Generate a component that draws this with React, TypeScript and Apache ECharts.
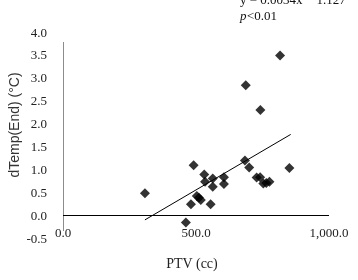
import React, { useEffect, useRef } from "react";
import * as echarts from "echarts";

const ptv = [816, 687, 742, 851, 684, 700, 728, 741, 753, 776, 764, 491, 531, 534, 563, 563, 605, 605, 308, 503, 518, 511, 481, 555, 462];
const dTemp = [3.49, 2.84, 2.30, 1.04, 1.20, 1.05, 0.83, 0.84, 0.70, 0.74, 0.71, 1.10, 0.90, 0.74, 0.81, 0.63, 0.84, 0.69, 0.49, 0.43, 0.34, 0.39, 0.25, 0.25, -0.15];
const trendX = [308, 856];
const trendY = [-0.09, 1.77];
const equationText = "y = 0.0034x \u2212 1.127";
const pText = "<0.01";
const xTitle = "PTV (cc)";
const yTitle = "dTemp(End) (\u00B0C)";

export default function App() {
  const ref = useRef<HTMLDivElement>(null);
  useEffect(() => {
    if (!ref.current) return;
    const chart = echarts.init(ref.current, null, { renderer: "svg" });
    const serif = "Liberation Serif";
    chart.setOption({
      animation: false,
      grid: { left: 63, right: 29, top: 32, bottom: 41.3 },
      xAxis: {
        type: "value",
        min: 0,
        max: 1000,
        interval: 500,
        axisLine: { show: false, onZero: false },
        axisTick: { show: false },
        splitLine: { show: false },
        axisLabel: {
          margin: -13,
          fontFamily: serif,
          fontSize: 13,
          color: "#222",
          formatter: (v: number) =>
            v.toLocaleString("en-US", { minimumFractionDigits: 1, maximumFractionDigits: 1 }),
        },
      },
      yAxis: {
        type: "value",
        min: -0.5,
        max: 4,
        interval: 0.5,
        axisLine: { show: false },
        axisTick: { show: false },
        splitLine: { show: false },
        axisLabel: {
          margin: 16,
          fontFamily: serif,
          fontSize: 13,
          color: "#222",
          formatter: (v: number) => v.toFixed(1),
        },
      },
      graphic: [
        { type: "line", shape: { x1: 63.5, y1: 42, x2: 63.5, y2: 231 }, style: { stroke: "#8c8c8c", lineWidth: 1 } },
        { type: "text", x: 240, y: -1, style: { text: equationText, fontFamily: serif, fontSize: 13, fill: "#111", verticalAlign: "middle" } },
        { type: "text", x: 240, y: 15, style: { text: "p", fontFamily: serif, fontStyle: "italic", fontSize: 13, fill: "#111", verticalAlign: "middle" } },
        { type: "text", x: 247, y: 15, style: { text: pText, fontFamily: serif, fontSize: 13, fill: "#111", verticalAlign: "middle" } },
        { type: "text", x: 192, y: 263, style: { text: xTitle, fontFamily: serif, fontSize: 14, fill: "#222", align: "center", verticalAlign: "middle" } },
        { type: "text", x: 14, y: 125, rotation: Math.PI / 2, style: { text: yTitle, fontFamily: "Liberation Sans", fontSize: 14, fill: "#333", align: "center", verticalAlign: "middle" } },
      ],
      series: [
        {
          type: "scatter",
          data: ptv.map((x, i) => [x, dTemp[i]]),
          symbol: "diamond",
          symbolSize: 10,
          itemStyle: { color: "#000" },
          markLine: {
            silent: true,
            symbol: ["none", "none"],
            label: { show: false },
            lineStyle: { color: "#000", width: 1, type: "solid" },
            data: [{ yAxis: 0 }],
          },
        },
        {
          type: "line",
          data: trendX.map((x, i) => [x, trendY[i]]),
          showSymbol: false,
          symbol: "none",
          lineStyle: { color: "#000", width: 1 },
        },
      ],
    });
    return () => chart.dispose();
  }, []);
  return <div ref={ref} style={{ position: "fixed", left: 0, top: 0, width: 358, height: 280 }} />;
}
